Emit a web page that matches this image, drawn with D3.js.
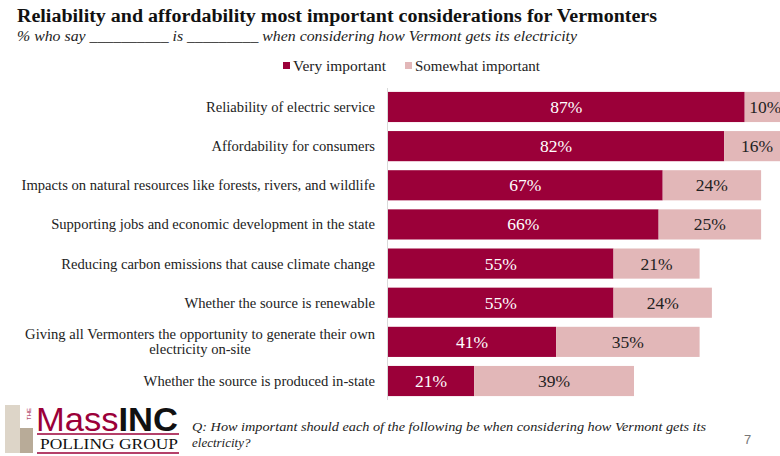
<!DOCTYPE html>
<html lang="en">
<head>
  <meta charset="UTF-8">
  <title>Reliability and affordability</title>
  <script src="https://d3js.org/d3.v7.min.js"></script>
  <style>
    body { margin: 0; background: #fff; }
    svg { font-family: "Liberation Serif", "DejaVu Serif", serif; }
  </style>
</head>
<body>
  <script>
    // data
    const categories = [
      "Reliability of electric service",
      "Affordability for consumers",
      "Impacts on natural resources like forests, rivers, and wildlife",
      "Supporting jobs and economic development in the state",
      "Reducing carbon emissions that cause climate change",
      "Whether the source is renewable",
      "Giving all Vermonters the opportunity to generate their own|electricity on-site",
      "Whether the source is produced in-state"
    ];
    const veryImportant = [87, 82, 67, 66, 55, 55, 41, 21];
    const somewhatImportant = [10, 16, 24, 25, 21, 24, 35, 39];
    const seriesNames = ["Very important", "Somewhat important"];
    const colors = ["#9b0039", "#e2b7b8"];

    const width = 780, height = 456;
    const svg = d3.select("body").append("svg")
      .attr("width", width).attr("height", height);

    const x = d3.scaleLinear().domain([0, 100]).range([388, 798]);
    const y = d3.scaleBand().domain(d3.range(categories.length))
      .range([88, 400]).paddingInner(0.23).paddingOuter(0.1);

    // title
    svg.append("text").attr("x", 17).attr("y", 22)
      .attr("font-size", 18.5).attr("font-weight", "bold").attr("fill", "#111")
      .attr("textLength", 640).attr("lengthAdjust", "spacingAndGlyphs")
      .text("Reliability and affordability most important considerations for Vermonters");
    svg.append("text").attr("x", 17).attr("y", 41)
      .attr("font-size", 14.5).attr("font-style", "italic").attr("fill", "#222")
      .attr("textLength", 560).attr("lengthAdjust", "spacingAndGlyphs")
      .text("% who say __________ is _________ when considering how Vermont gets its electricity");

    // legend
    const legendX = [283, 405];
    const legendW = [93, 125];
    seriesNames.forEach((s, i) => {
      svg.append("rect").attr("x", legendX[i]).attr("y", 62).attr("width", 7).attr("height", 7)
        .attr("fill", colors[i]);
      svg.append("text").attr("x", legendX[i] + 10).attr("y", 71)
        .attr("font-size", 14.5).attr("fill", "#222")
        .attr("textLength", legendW[i]).attr("lengthAdjust", "spacingAndGlyphs").text(s);
    });

    // bars
    const rows = svg.append("g").selectAll("g")
      .data(categories.map((c, i) => ({ c, v: veryImportant[i], s: somewhatImportant[i], i })))
      .join("g");

    rows.append("rect")
      .attr("x", x(0)).attr("y", d => y(d.i))
      .attr("width", d => x(d.v) - x(0)).attr("height", y.bandwidth())
      .attr("fill", colors[0]);
    rows.append("rect")
      .attr("x", d => x(d.v)).attr("y", d => y(d.i))
      .attr("width", d => x(d.v + d.s) - x(d.v)).attr("height", y.bandwidth())
      .attr("fill", colors[1]);

    rows.append("text")
      .attr("x", d => (x(0) + x(d.v)) / 2).attr("y", d => y(d.i) + y.bandwidth() / 2 + 6)
      .attr("text-anchor", "middle").attr("font-size", 17.5).attr("fill", "#fff")
      .text(d => d.v + "%");
    rows.append("text")
      .attr("x", d => (x(d.v) + x(d.v + d.s)) / 2).attr("y", d => y(d.i) + y.bandwidth() / 2 + 6)
      .attr("text-anchor", "middle").attr("font-size", 17.5).attr("fill", "#222")
      .text(d => d.s + "%");

    // category labels
    rows.each(function (d) {
      const lines = d.c.split("|");
      const g = d3.select(this);
      const cy = y(d.i) + y.bandwidth() / 2;
      if (lines.length === 1) {
        g.append("text").attr("x", 375).attr("y", cy + 5)
          .attr("text-anchor", "end").attr("font-size", 14.6).attr("fill", "#222").text(lines[0]);
      } else {
        const w = 358;
        g.append("text").attr("x", 375).attr("y", cy - 3)
          .attr("text-anchor", "end").attr("font-size", 14.6).attr("fill", "#222").text(lines[0]);
        g.append("text").attr("x", 375 - w / 2 + 4).attr("y", cy + 12.5)
          .attr("text-anchor", "middle").attr("font-size", 14.6).attr("fill", "#222").text(lines[1]);
      }
    });

    // axis line
    svg.append("line").attr("x1", x(0) - 0.5).attr("x2", x(0) - 0.5)
      .attr("y1", 88).attr("y2", 400).attr("stroke", "#d9d9d9");

    // logo
    const logo = svg.append("g");
    logo.append("rect").attr("x", 5).attr("y", 405).attr("width", 15).attr("height", 48).attr("fill", "#ddd5c8");
    logo.append("rect").attr("x", 20).attr("y", 428).attr("width", 13).attr("height", 25).attr("fill", "#b8ab98");
    logo.append("text").attr("transform", "translate(31,420) rotate(-90)")
      .style("font-family", "Liberation Sans").attr("font-size", 6).attr("fill", "#9b0039").text("THE");
    logo.append("text").attr("x", 36).attr("y", 431)
      .style("font-family", "'Liberation Sans Narrow', 'Liberation Sans', sans-serif").attr("font-size", 33)
      .attr("fill", "#9b0039").attr("textLength", 142).attr("lengthAdjust", "spacingAndGlyphs")
      .text("Mass")
      .append("tspan").attr("font-weight", "bold").attr("fill", "#111").text("INC");
    logo.append("line").attr("x1", 37).attr("x2", 179).attr("y1", 434).attr("y2", 434)
      .attr("stroke", "#9b0039").attr("stroke-width", 1.5);
    logo.append("text").attr("x", 40).attr("y", 449).attr("font-size", 14.5)
      .attr("fill", "#111").attr("textLength", 138).attr("lengthAdjust", "spacingAndGlyphs")
      .text("POLLING GROUP");
    logo.append("line").attr("x1", 37).attr("x2", 179).attr("y1", 453).attr("y2", 453)
      .attr("stroke", "#9b0039").attr("stroke-width", 1.5);

    // footnote
    svg.append("text").attr("x", 192).attr("y", 431)
      .attr("font-size", 13).attr("font-style", "italic").attr("fill", "#222")
      .attr("textLength", 514).attr("lengthAdjust", "spacingAndGlyphs")
      .text("Q: How important should each of the following be when considering how Vermont gets its");
    svg.append("text").attr("x", 192).attr("y", 447)
      .attr("font-size", 13).attr("font-style", "italic").attr("fill", "#222")
      .text("electricity?");
    svg.append("text").attr("x", 744).attr("y", 444)
      .style("font-family", "Liberation Sans").attr("font-size", 13).attr("fill", "#777").text("7");
  </script>
</body>
</html>
